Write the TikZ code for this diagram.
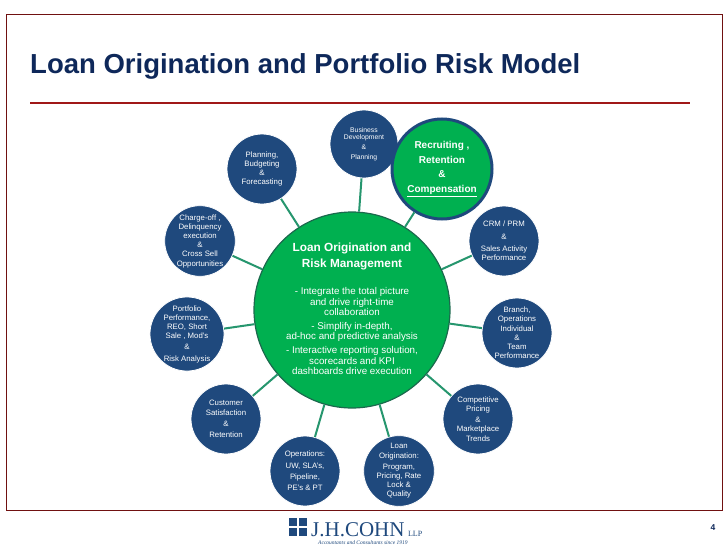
\documentclass[tikz,border=0pt]{standalone}
\usepackage{fontspec}
\setmainfont{Liberation Sans}
\newfontfamily\serifcohn{Liberation Serif}
\begin{document}
\begin{tikzpicture}[x=1pt,y=-1pt,
  sat/.style={circle,fill=bluec,draw=white,line width=0.8pt,text=white,minimum size=70pt,inner sep=0pt,align=center,font=\fontsize{7.8}{9.2}\selectfont},
  link/.style={draw=linkc,line width=2pt}]
\definecolor{bluec}{RGB}{31,73,125}
\definecolor{greenc}{RGB}{0,176,80}
\definecolor{linkc}{RGB}{38,150,110}
\definecolor{titlec}{RGB}{14,40,90}
\definecolor{redc}{RGB}{160,24,24}
\useasboundingbox (0,0) rectangle (728,546);
\fill[white] (0,0) rectangle (728,546);
\draw[draw=redc!70!black,line width=0.6pt] (6,14) rectangle (722,510);
\node[anchor=base west,text=titlec,font=\fontsize{27.5}{30}\selectfont\bfseries,inner sep=0pt] (title) at (30,73) {Loan Origination and Portfolio Risk Model};
\draw[redc,line width=2.2pt] (30,103) -- (690,103);
% center
\node[circle,fill=greenc,draw=linkc!70!black,line width=1.2pt,minimum size=196pt,inner sep=0pt] (c) at (352,310) {};
\node[text=white,align=center,font=\fontsize{11.8}{16}\selectfont\bfseries] (ct) at (352,256) {Loan Origination and\\Risk Management};
\node[text=white,align=center,font=\fontsize{9.8}{10.6}\selectfont] (cb) at (352,331) {- Integrate the total picture\\and drive right-time\\collaboration\\[3pt]- Simplify in-depth,\\ad-hoc and predictive analysis\\[3pt]- Interactive reporting solution,\\scorecards and KPI\\dashboards drive execution};
% satellites
\node[sat,minimum size=68pt,font=\fontsize{6.8}{7.8}\selectfont] (bd) at (364,144) {Business\\Development\\[2pt]\&\\[2pt]Planning};
\node[circle,fill=greenc,draw=bluec,line width=3pt,minimum size=100pt,inner sep=0pt,text=white,align=center,font=\fontsize{10}{14.5}\selectfont\bfseries] (rr) at (442,169) {Recruiting ,\\Retention\\\&\\\underline{Compensation}};
\node[sat] (pl) at (262,169) {Planning,\\Budgeting\\\&\\Forecasting};
\node[sat] (co) at (200,241) {Charge-off ,\\Delinquency\\execution\\\&\\Cross Sell\\Opportunities};
\node[sat] (crm) at (504,241) {CRM / PRM\\[3pt]\&\\[3pt]Sales Activity\\Performance};
\node[sat] (pf) at (187,334) {Portfolio\\Performance,\\REO, Short\\Sale , Mod's\\[2pt]\&\\[2pt]Risk Analysis};
\node[sat] (br) at (517,333) {Branch,\\Operations\\Individual\\\&\\Team\\Performance};
\node[sat] (cs) at (226,419) {Customer\\Satisfaction\\[2pt]\&\\[2pt]Retention};
\node[sat] (cp) at (478,419) {Competitive\\Pricing\\[2pt]\&\\Marketplace\\Trends};
\node[sat] (op) at (305,471) {Operations:\\[2pt]UW, SLA's,\\[2pt]Pipeline,\\[2pt]PE's \& PT};
\node[sat] (lo) at (399,471) {Loan\\Origination:\\[2pt]Program,\\Pricing, Rate\\Lock \&\\Quality};
\foreach \s in {bd,rr,pl,co,crm,pf,br,cs,cp,op,lo} \draw[link] (c) -- (\s);
% footer logo
\fill[bluec] (289,518) rectangle (297,526);
\fill[bluec] (299,518) rectangle (307,526);
\fill[bluec] (289,528) rectangle (297,536);
\fill[bluec] (299,528) rectangle (307,536);
\node[anchor=base west,inner sep=0pt,text=bluec,font=\serifcohn\fontsize{21}{21}\selectfont] (logo) at (311,536) {J.H.COHN\,{\fontsize{8}{8}\selectfont LLP}};
\node[anchor=base west,inner sep=0pt,text=bluec,font=\serifcohn\itshape\fontsize{5.5}{5.5}\selectfont] (tag) at (318,544) {Accountants and Consultants since 1919};
\node[anchor=base,inner sep=0pt,text=titlec,font=\fontsize{8.5}{8.5}\selectfont\bfseries] (pg) at (713,530) {4};
\end{tikzpicture}
\end{document}
